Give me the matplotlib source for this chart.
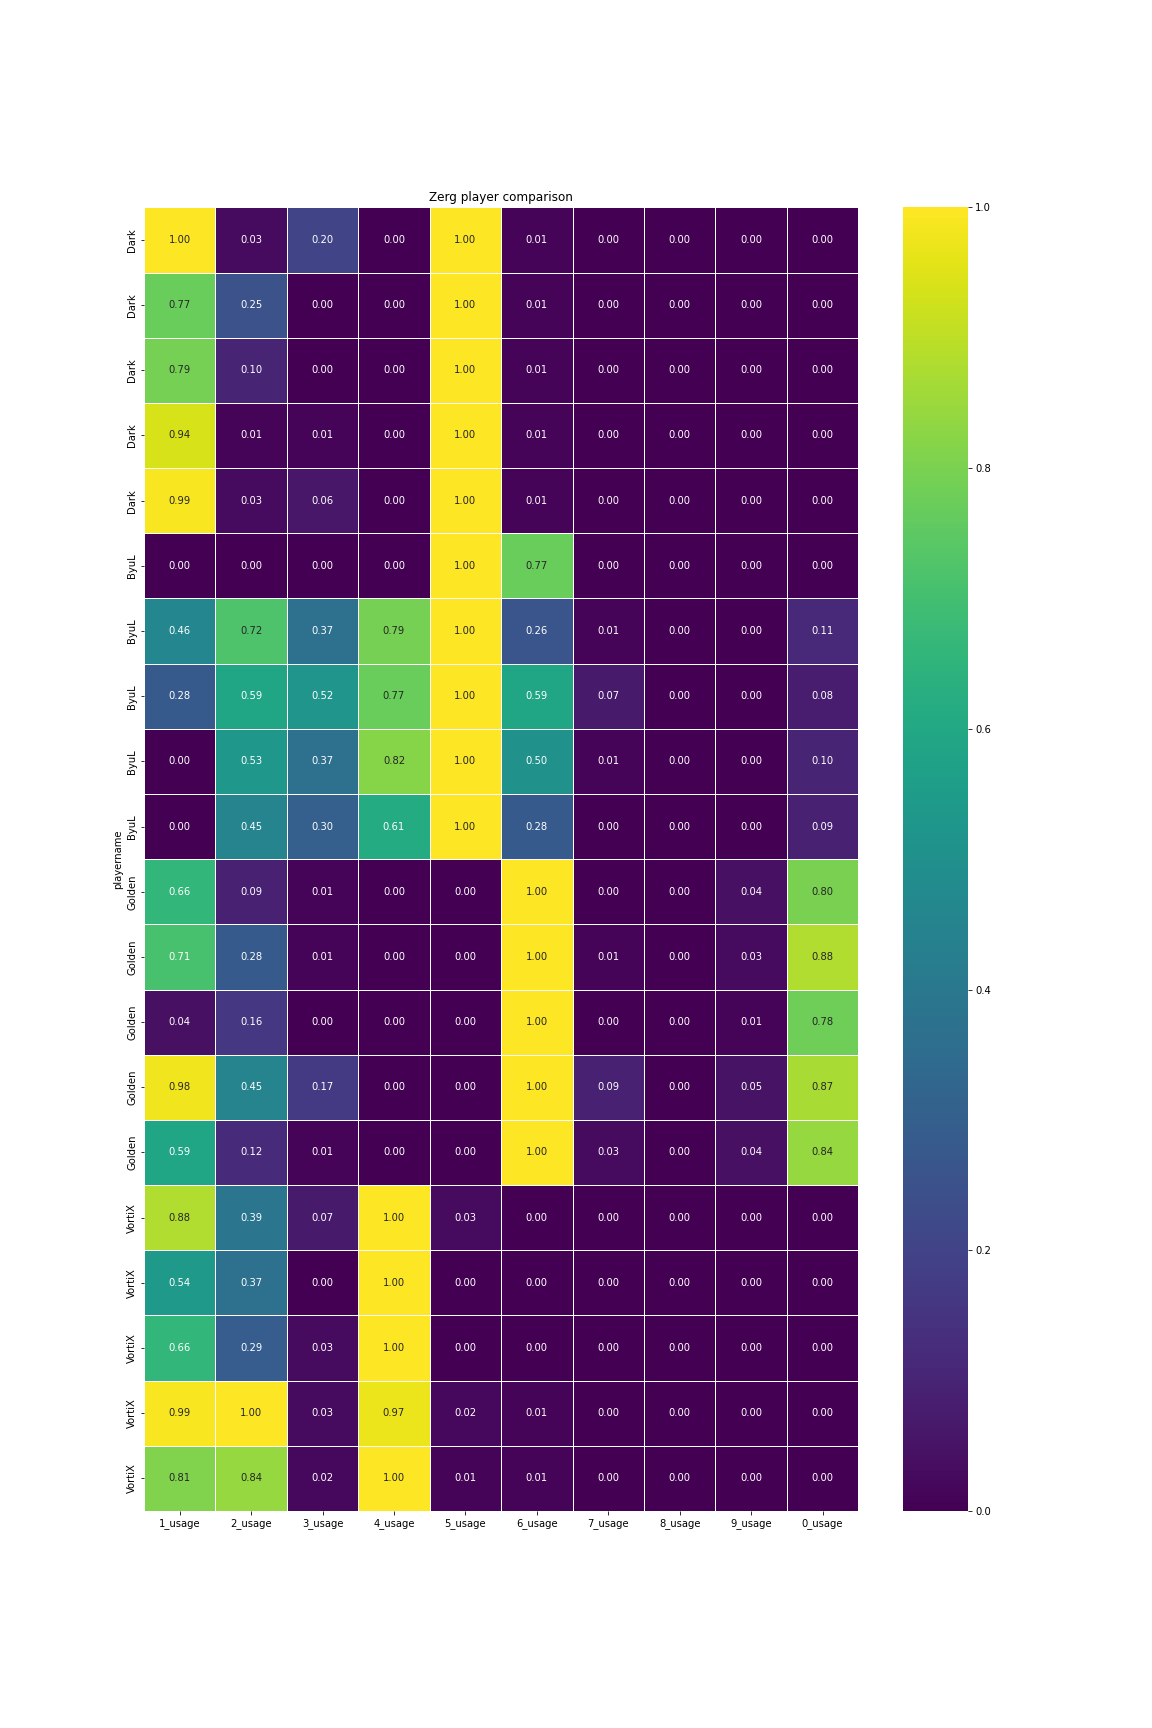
import numpy as np
import pandas as pd
import matplotlib
matplotlib.use("Agg")
import matplotlib.pyplot as plt
import seaborn as sns

players = ["Dark"] * 5 + ["ByuL"] * 5 + ["Golden"] * 5 + ["VortiX"] * 5
columns = ["1_usage", "2_usage", "3_usage", "4_usage", "5_usage",
           "6_usage", "7_usage", "8_usage", "9_usage", "0_usage"]

dark = [
    [1.00, 0.03, 0.20, 0.00, 1.00, 0.01, 0.00, 0.00, 0.00, 0.00],
    [0.77, 0.25, 0.00, 0.00, 1.00, 0.01, 0.00, 0.00, 0.00, 0.00],
    [0.79, 0.10, 0.00, 0.00, 1.00, 0.01, 0.00, 0.00, 0.00, 0.00],
    [0.94, 0.01, 0.01, 0.00, 1.00, 0.01, 0.00, 0.00, 0.00, 0.00],
    [0.99, 0.03, 0.06, 0.00, 1.00, 0.01, 0.00, 0.00, 0.00, 0.00],
]
byul = [
    [0.00, 0.00, 0.00, 0.00, 1.00, 0.77, 0.00, 0.00, 0.00, 0.00],
    [0.46, 0.72, 0.37, 0.79, 1.00, 0.26, 0.01, 0.00, 0.00, 0.11],
    [0.28, 0.59, 0.52, 0.77, 1.00, 0.59, 0.07, 0.00, 0.00, 0.08],
    [0.00, 0.53, 0.37, 0.82, 1.00, 0.50, 0.01, 0.00, 0.00, 0.10],
    [0.00, 0.45, 0.30, 0.61, 1.00, 0.28, 0.00, 0.00, 0.00, 0.09],
]
golden = [
    [0.66, 0.09, 0.01, 0.00, 0.00, 1.00, 0.00, 0.00, 0.04, 0.80],
    [0.71, 0.28, 0.01, 0.00, 0.00, 1.00, 0.01, 0.00, 0.03, 0.88],
    [0.04, 0.16, 0.00, 0.00, 0.00, 1.00, 0.00, 0.00, 0.01, 0.78],
    [0.98, 0.45, 0.17, 0.00, 0.00, 1.00, 0.09, 0.00, 0.05, 0.87],
    [0.59, 0.12, 0.01, 0.00, 0.00, 1.00, 0.03, 0.00, 0.04, 0.84],
]
vortix = [
    [0.88, 0.39, 0.07, 1.00, 0.03, 0.00, 0.00, 0.00, 0.00, 0.00],
    [0.54, 0.37, 0.00, 1.00, 0.00, 0.00, 0.00, 0.00, 0.00, 0.00],
    [0.66, 0.29, 0.03, 1.00, 0.00, 0.00, 0.00, 0.00, 0.00, 0.00],
    [0.99, 1.00, 0.03, 0.97, 0.02, 0.01, 0.00, 0.00, 0.00, 0.00],
    [0.81, 0.84, 0.02, 1.00, 0.01, 0.01, 0.00, 0.00, 0.00, 0.00],
]

df = pd.DataFrame(dark + byul + golden + vortix, columns=columns,
                  index=pd.Index(players, name="playername"))

fig, ax = plt.subplots(figsize=(16, 24), dpi=72)
fig.subplots_adjust(bottom=0.1256)
sns.heatmap(df, annot=True, fmt=".2f", cmap="viridis", linewidths=1,
            linecolor="white", ax=ax)
ax.set_title("Zerg player comparison")
fig.savefig("out.png", dpi=72)
